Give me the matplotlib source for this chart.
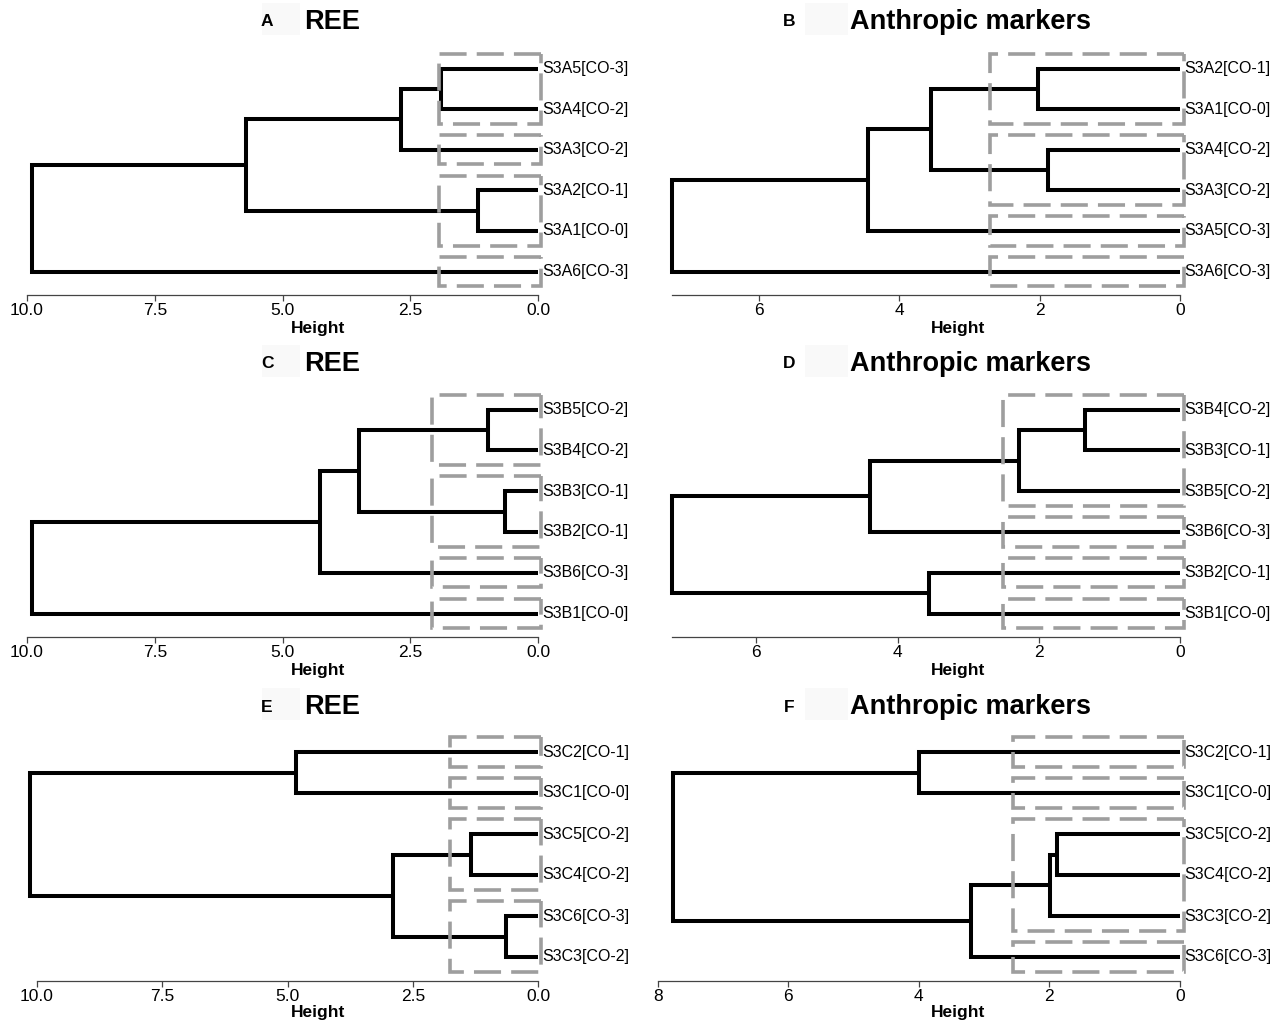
import matplotlib
matplotlib.use('Agg')
import matplotlib.pyplot as plt
from matplotlib.patches import Rectangle

plt.rcParams['font.family'] = ['Liberation Sans', 'DejaVu Sans']

W, H = 1276, 1024

# ---- data: leaves top -> bottom, merges (child, child, height), boxes (first leaf, last leaf), cut height
# children: int = leaf index, 'mK' = K-th merge
leaves_a = ['S3A5[CO-3]', 'S3A4[CO-2]', 'S3A3[CO-2]', 'S3A2[CO-1]', 'S3A1[CO-0]', 'S3A6[CO-3]']
merges_a = [(0, 1, 1.90), (3, 4, 1.17), ('m0', 2, 2.69), ('m2', 'm1', 5.71), ('m3', 5, 9.90)]
boxes_a = [(0, 1), (2, 2), (3, 4), (5, 5)]
cut_a = 1.94

leaves_b = ['S3A2[CO-1]', 'S3A1[CO-0]', 'S3A4[CO-2]', 'S3A3[CO-2]', 'S3A5[CO-3]', 'S3A6[CO-3]']
merges_b = [(0, 1, 2.02), (2, 3, 1.88), ('m0', 'm1', 3.54), ('m2', 4, 4.45), ('m3', 5, 7.24)]
boxes_b = [(0, 1), (2, 3), (4, 4), (5, 5)]
cut_b = 2.71

leaves_c = ['S3B5[CO-2]', 'S3B4[CO-2]', 'S3B3[CO-1]', 'S3B2[CO-1]', 'S3B6[CO-3]', 'S3B1[CO-0]']
merges_c = [(0, 1, 0.97), (2, 3, 0.65), ('m0', 'm1', 3.51), ('m2', 4, 4.27), ('m3', 5, 9.90)]
boxes_c = [(0, 1), (2, 3), (4, 4), (5, 5)]
cut_c = 2.08

leaves_d = ['S3B4[CO-2]', 'S3B3[CO-1]', 'S3B5[CO-2]', 'S3B6[CO-3]', 'S3B2[CO-1]', 'S3B1[CO-0]']
merges_d = [(0, 1, 1.35), ('m0', 2, 2.28), ('m1', 3, 4.39), (4, 5, 3.56), ('m2', 'm3', 7.20)]
boxes_d = [(0, 2), (3, 3), (4, 4), (5, 5)]
cut_d = 2.51

leaves_e = ['S3C2[CO-1]', 'S3C1[CO-0]', 'S3C5[CO-2]', 'S3C4[CO-2]', 'S3C6[CO-3]', 'S3C3[CO-2]']
merges_e = [(0, 1, 4.84), (2, 3, 1.34), (4, 5, 0.64), ('m1', 'm2', 2.90), ('m0', 'm3', 10.14)]
boxes_e = [(0, 0), (1, 1), (2, 3), (4, 5)]
cut_e = 1.76

leaves_f = ['S3C2[CO-1]', 'S3C1[CO-0]', 'S3C5[CO-2]', 'S3C4[CO-2]', 'S3C3[CO-2]', 'S3C6[CO-3]']
merges_f = [(0, 1, 4.00), (2, 3, 1.89), ('m1', 4, 1.99), ('m2', 5, 3.20), ('m0', 'm3', 7.77)]
boxes_f = [(0, 0), (1, 1), (2, 4), (5, 5)]
cut_f = 2.55

ticks_ree = [10.0, 7.5, 5.0, 2.5, 0.0]
ree_lab = ['10.0', '7.5', '5.0', '2.5', '0.0']
ticks_anth = [6, 4, 2, 0]
anth_lab = ['6', '4', '2', '0']
ticks_anth_f = [8, 6, 4, 2, 0]
anth_lab_f = ['8', '6', '4', '2', '0']

fig = plt.figure(figsize=(W / 100, H / 100), dpi=100)


def draw_panel(x_left, x_right, x0px, ppu, leaf0, step, leaves, merges, boxes, cut,
               ticks, ticklabels, axis_max):
    n = len(leaves)
    y_top = -0.8
    y_bot = n - 1 + 0.58
    top_px = leaf0 + y_top * step
    bot_px = leaf0 + y_bot * step
    ax = fig.add_axes([x_left / W, 1 - bot_px / H, (x_right - x_left) / W, (bot_px - top_px) / H])
    ax.set_xlim((x0px - x_left) / ppu, (x0px - x_right) / ppu)
    ax.set_ylim(y_bot, y_top)

    # dendrogram
    pos = {}
    hgt = {}
    for k, (a, b, h) in enumerate(merges):
        pa = pos[a] if isinstance(a, str) else a
        pb = pos[b] if isinstance(b, str) else b
        ha = hgt[a] if isinstance(a, str) else 0.0
        hb = hgt[b] if isinstance(b, str) else 0.0
        ax.plot([ha, h, h, hb], [pa, pa, pb, pb], color='black', lw=2.9,
                solid_capstyle='butt', solid_joinstyle='miter', zorder=2)
        pos['m%d' % k] = (pa + pb) / 2
        hgt['m%d' % k] = h

    # cluster boxes
    for first, last in boxes:
        ax.add_patch(Rectangle((-0.06, first - 0.36), cut + 0.06, last - first + 0.72,
                               fill=False, edgecolor='#9e9e9e', lw=2.6,
                               linestyle=(0, (7.5, 2.8)), zorder=3, clip_on=False))

    for i, lab in enumerate(leaves):
        ax.annotate(lab, (0, i), xytext=(4.5, 0), textcoords='offset pixels',
                    ha='left', va='center', fontsize=11.5, annotation_clip=False)

    for s in ['top', 'right', 'left']:
        ax.spines[s].set_visible(False)
    ax.spines['bottom'].set_color('#444444')
    ax.spines['bottom'].set_linewidth(0.9)
    ax.spines['bottom'].set_bounds(0, axis_max)
    ax.set_yticks([])
    ax.set_xticks(ticks)
    ax.set_xticklabels(ticklabels, fontsize=12.5)
    ax.tick_params(axis='x', direction='out', length=4, width=0.9, color='#444444', pad=2)
    ax.patch.set_visible(False)
    return ax


def panel_title(letter, name, col, yc):
    if col == 0:
        lx, b0, b1, tx = 267, 262, 300, 304
    else:
        lx, b0, b1, tx = 789, 805, 848, 850
    # faint background patch next to the panel letter
    fig.patches.append(Rectangle((b0 / W, 1 - (yc + 13) / H), (b1 - b0) / W, 32 / H,
                                 transform=fig.transFigure, facecolor='#f9f9f9',
                                 edgecolor='none', zorder=0))
    fig.text(lx / W, 1 - yc / H, letter, ha='center', va='center',
             fontsize=12.5, fontweight='bold')
    fig.text(tx / W, 1 - yc / H, name, ha='left', va='center',
             fontsize=19.5, fontweight='bold')


draw_panel(15, 548, 538, 51.1, 68.5, 40.6, leaves_a, merges_a, boxes_a, cut_a, ticks_ree, ree_lab, 10.0)
draw_panel(655, 1190, 1180, 70.2, 68.5, 40.6, leaves_b, merges_b, boxes_b, cut_b, ticks_anth, anth_lab, 7.24)
draw_panel(15, 548, 538, 51.1, 409.5, 40.8, leaves_c, merges_c, boxes_c, cut_c, ticks_ree, ree_lab, 10.0)
draw_panel(655, 1190, 1180, 70.6, 409.5, 40.8, leaves_d, merges_d, boxes_d, cut_d, ticks_anth, anth_lab, 7.20)
draw_panel(15, 548, 538, 50.1, 752, 41.0, leaves_e, merges_e, boxes_e, cut_e, ticks_ree, ree_lab, 10.0)
draw_panel(655, 1190, 1180, 65.3, 752, 41.0, leaves_f, merges_f, boxes_f, cut_f, ticks_anth_f, anth_lab_f, 8.0)

panel_title('A', 'REE', 0, 22)
panel_title('B', 'Anthropic markers', 1, 22)
panel_title('C', 'REE', 0, 364)
panel_title('D', 'Anthropic markers', 1, 364)
panel_title('E', 'REE', 0, 707)
panel_title('F', 'Anthropic markers', 1, 707)

for xc, yc in [(318, 329), (958, 329), (318, 670), (958, 670), (318, 1013), (958, 1013)]:
    fig.text(xc / W, 1 - yc / H, 'Height', ha='center', va='center', fontsize=12.5, fontweight='bold')

fig.savefig('out.png', dpi=100)
